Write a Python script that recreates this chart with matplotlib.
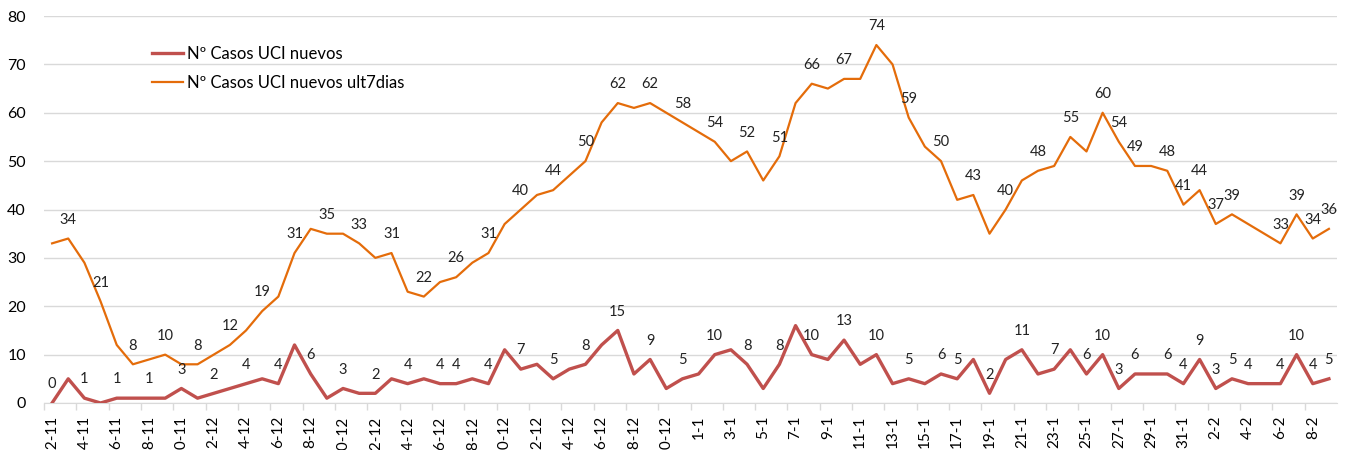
import datetime as dt
import matplotlib
matplotlib.use("Agg")
import matplotlib.pyplot as plt

plt.rcParams["font.family"] = ["Lato", "DejaVu Sans"]

# Daily dates 22-11 .. 9-2
start = dt.date(2020, 11, 22)
dates = [start + dt.timedelta(days=i) for i in range(80)]
date_labels = ["{}-{}".format(d.day, d.month) for d in dates]

uci_nuevos = [
	0, 5, 1, 0, 1, 1, 1, 1, 3, 1,
	2, 3, 4, 5, 4, 12, 6, 1, 3, 2,
	2, 5, 4, 5, 4, 4, 5, 4, 11, 7,
	8, 5, 7, 8, 12, 15, 6, 9, 3, 5,
	6, 10, 11, 8, 3, 8, 16, 10, 9, 13,
	8, 10, 4, 5, 4, 6, 5, 9, 2, 9,
	11, 6, 7, 11, 6, 10, 3, 6, 6, 6,
	4, 9, 3, 5, 4, 4, 4, 10, 4, 5
]
uci_ult7 = [
	33, 34, 29, 21, 12, 8, 9, 10, 8, 8,
	10, 12, 15, 19, 22, 31, 36, 35, 35, 33,
	30, 31, 23, 22, 25, 26, 29, 31, 37, 40,
	43, 44, 47, 50, 58, 62, 61, 62, 60, 58,
	56, 54, 50, 52, 46, 51, 62, 66, 65, 67,
	67, 74, 70, 59, 53, 50, 42, 43, 35, 40,
	46, 48, 49, 55, 52, 60, 54, 49, 49, 48,
	41, 44, 37, 39, 37, 35, 33, 39, 34, 36
]

# Which points carry a data label
red_label_idx = [0, 2, 4, 6, 8, 10, 12, 14, 16, 18, 20, 22, 24, 25, 27, 29, 31, 33, 35,
	37, 39, 41, 43, 45, 47, 49, 51, 53, 55, 56, 58, 60, 62, 64, 65, 66, 67, 69, 70,
	71, 72, 73, 74, 76, 77, 78, 79]
orange_label_idx = [1, 3, 5, 7, 9, 11, 13, 15, 17, 19, 21, 23, 25, 27, 29, 31, 33, 35,
	37, 39, 41, 43, 45, 47, 49, 51, 53, 55, 57, 59, 61, 63, 65, 66, 67, 69, 70, 71,
	72, 73, 76, 77, 78, 79]

red = "#C0504D"
orange = "#E46C0A"
grid = "#D9D9D9"

fig = plt.figure(figsize=(13.47, 4.5), dpi=100)
ax = fig.add_axes([44 / 1347, 1 - 403 / 450, (1337 - 44) / 1347, (403 - 16) / 450])

x = list(range(len(dates)))
ax.plot(x, uci_nuevos, color=red, lw=2.4, label="Nº Casos UCI nuevos", zorder=3)
ax.plot(x, uci_ult7, color=orange, lw=1.6, label="Nº Casos UCI nuevos ult7dias", zorder=3)

# Data labels
for i in red_label_idx:
	ax.annotate(str(uci_nuevos[i]), (i, uci_nuevos[i]), xytext=(0, 13.5),
		textcoords="offset points", ha="center", va="center", fontsize=10.5, color="#222222")
for i in orange_label_idx:
	ax.annotate(str(uci_ult7[i]), (i, uci_ult7[i]), xytext=(0, 13.5),
		textcoords="offset points", ha="center", va="center", fontsize=10.5, color="#222222")

# Formatting
ax.set_xlim(-0.5, len(dates) - 0.5)
ax.set_ylim(0, 80)
ax.set_yticks(range(0, 81, 10))
ax.tick_params(axis="y", length=0, pad=13, labelsize=11.5)
ax.grid(axis="y", color=grid, lw=1)
ax.set_axisbelow(True)

ax.set_xticks(x[::2])
ax.set_xticklabels(date_labels[::2], rotation=90, fontsize=11, va="top", ha="center")
ax.set_xticks([v - 0.5 for v in x[::2]], minor=True)
ax.tick_params(axis="x", which="major", length=0, pad=9)
ax.tick_params(axis="x", which="minor", length=5, color=grid, width=1)

for side in ("left", "right", "top"):
	ax.spines[side].set_visible(False)
ax.spines["bottom"].set_color(grid)

ax.legend(loc="upper left", bbox_to_anchor=(152 / 1347, 1 - 46 / 450),
	bbox_transform=fig.transFigure, frameon=False, fontsize=12,
	handlelength=1.85, handletextpad=0.25, labelspacing=0.75,
	borderpad=0, borderaxespad=0)

fig.savefig("out.png", dpi=100)
